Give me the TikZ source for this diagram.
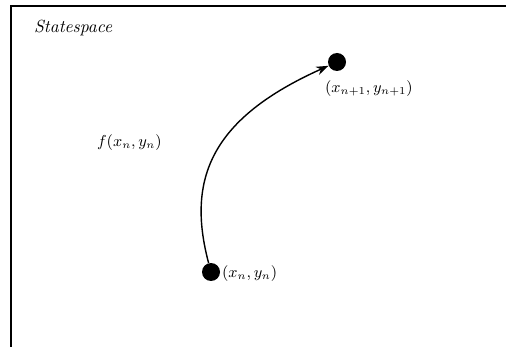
\documentclass[tikz,border=0pt]{standalone}
\usepackage{amsmath,amssymb}
\usepackage{xcolor}
\usetikzlibrary{arrows.meta,calc}

\begin{document}
\begin{tikzpicture}[x=0.02cm, y=-0.02cm,
  pt/.style={circle, fill=black, inner sep=0pt, minimum size=0.36cm},
  lbl/.style={font=\small, inner sep=1pt},
  traj/.style={-{Stealth[length=7pt,width=5pt]}, line width=0.8pt}]
\useasboundingbox (0,0) rectangle (506,347);
% frame (top and left edges only)
\draw[line width=1.2pt] (506,6) -- (11,6) -- (11,347);
\node[lbl, anchor=west, font=\normalsize\itshape] (title) at (32,28) {Statespace};
% states
\node[pt] (sn)  at (211,272) {};
\node[pt] (sn1) at (337,62) {};
\node[lbl, anchor=west] (ln)  at (220,274) {$(x_n, y_n)$};
\node[lbl, anchor=west] (ln1) at (323,89) {$(x_{n+1}, y_{n+1})$};
\node[lbl, anchor=west] (lf)  at (95,143) {$f(x_n, y_n)$};
% map
\draw[traj] (sn) .. controls (186,178) and (212,118) .. (sn1);
\end{tikzpicture}
\end{document}
